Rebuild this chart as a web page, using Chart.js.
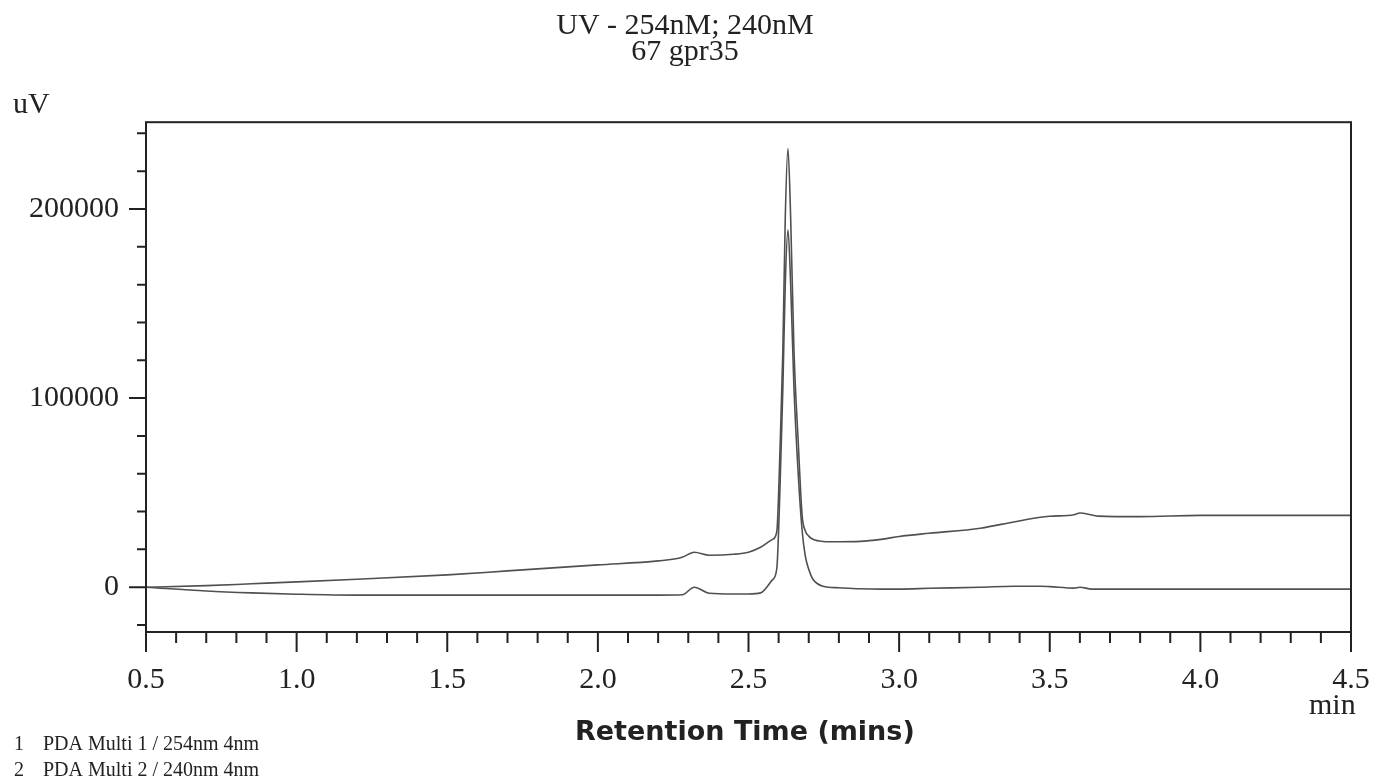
<!DOCTYPE html>
<html>
<head>
<meta charset="utf-8">
<title>UV - 254nM; 240nM</title>
<script src="https://cdn.jsdelivr.net/npm/chart.js@4.4.1/dist/chart.umd.min.js"></script>
<style>
  html, body { margin: 0; padding: 0; background: #fff; }
  #wrap { width: 1373px; height: 779px; position: relative; }
</style>
</head>
<body>
<div id="wrap"><canvas id="uvChart"></canvas></div>
<script>
// retention time (min) shared by both traces
const retentionTimes = [
    0.5, 0.7, 0.85, 1.0, 1.2, 1.5, 1.7, 2.0, 2.2, 2.28,
    2.32, 2.37, 2.45, 2.5, 2.54, 2.58, 2.594, 2.605, 2.614, 2.622,
    2.631, 2.64, 2.651, 2.665, 2.678, 2.688, 2.7, 2.714, 2.747, 2.8,
    2.87, 2.94, 3.0, 3.1, 3.27, 3.38, 3.47, 3.5, 3.58, 3.6,
    3.64, 3.66, 3.8, 4.0, 4.2, 4.5
];
// uV, upper trace
const pda254 = [
    0, 800, 1800, 2800, 4200, 6500, 8600, 11800, 13900, 15800,
    18500, 16900, 17400, 18500, 21100, 25300, 29500, 75000, 125000, 195000,
    232000, 195000, 125000, 77000, 38000, 30000, 27000, 25300, 24200, 24000,
    24200, 25300, 26800, 28500, 31200, 34500, 37000, 37500, 38300, 39200,
    38200, 37600, 37300, 38000, 38000, 38000
];
// uV, lower trace
const pda240 = [
    0, -2000, -3000, -3700, -4200, -4200, -4200, -4200, -4200, -4000,
    0, -3200, -3600, -3600, -3000, 4000, 10000, 55000, 105000, 160000,
    189000, 160000, 105000, 60000, 30000, 17000, 9500, 4200, 500, -300,
    -800, -1000, -1000, -600, 0, 500, 500, 300, -500, 0,
    -1000, -1000, -1000, -1000, -1000, -1000
];
const xTickLabels = [0.5, 1.0, 1.5, 2.0, 2.5, 3.0, 3.5, 4.0, 4.5];
const yTickLabels = [0, 100000, 200000];
const legendNumbers = ['1', '2'];
const legendTexts = ['PDA Multi 1 / 254nm 4nm', 'PDA Multi 2 / 240nm 4nm'];

const SERIF = '"Liberation Serif", "Times New Roman", serif';
const INK = '#222';
const TRACE = '#505050';

const toPoints = values => retentionTimes.map((t, i) => ({ x: t, y: values[i] }));

// box, minor/major ticks and the loose labels round the plot
const chromFrame = {
    id: 'chromFrame',
    afterDraw(chart) {
        const ctx = chart.ctx;
        const area = chart.chartArea;
        const xs = chart.scales.x;
        const ys = chart.scales.y;
        ctx.save();
        ctx.strokeStyle = INK;
        ctx.lineWidth = 2;
        ctx.strokeRect(area.left, area.top, area.right - area.left, area.bottom - area.top);

        ctx.beginPath();
        for (let i = 5; i <= 45; i++) {
            const px = xs.getPixelForValue(i / 10);
            const len = i % 5 === 0 ? 20 : 11;
            ctx.moveTo(px, area.bottom);
            ctx.lineTo(px, area.bottom + len);
        }
        for (let v = -20000; v <= 240000; v += 20000) {
            const py = ys.getPixelForValue(v);
            const len = v % 100000 === 0 ? 17 : 9;
            ctx.moveTo(area.left, py);
            ctx.lineTo(area.left - len, py);
        }
        ctx.stroke();

        ctx.fillStyle = INK;
        ctx.textBaseline = 'alphabetic';
        ctx.textAlign = 'left';
        ctx.font = '30px ' + SERIF;
        ctx.fillText('uV', 13, 113);
        ctx.fillText('min', 1309, 714);

        ctx.font = 'bold 27px "DejaVu Sans", Verdana, sans-serif';
        ctx.fillText('Retention Time (mins)', 575, 740);

        ctx.font = '20px ' + SERIF;
        legendTexts.forEach((txt, i) => {
            const y = 750 + i * 26;
            ctx.fillText(legendNumbers[i], 14, y);
            ctx.fillText(txt, 43, y);
        });
        ctx.restore();
    }
};

const ctx = document.getElementById('uvChart').getContext('2d');
new Chart(ctx, {
    type: 'line',
    data: {
        datasets: [
            {
                label: 'PDA Multi 1 / 254nm 4nm',
                data: toPoints(pda254),
                borderColor: TRACE,
                borderWidth: 1.6,
                pointRadius: 0,
                cubicInterpolationMode: 'monotone',
                fill: false
            },
            {
                label: 'PDA Multi 2 / 240nm 4nm',
                data: toPoints(pda240),
                borderColor: TRACE,
                borderWidth: 1.6,
                pointRadius: 0,
                cubicInterpolationMode: 'monotone',
                fill: false
            }
        ]
    },
    options: {
        responsive: true,
        maintainAspectRatio: false,
        animation: false,
        layout: { padding: { left: 0, right: 3, top: 0, bottom: 0 } },
        plugins: {
            legend: { display: false },
            tooltip: { enabled: false },
            title: {
                display: true,
                text: ['UV - 254nM; 240nM', '67 gpr35'],
                color: INK,
                font: { family: SERIF, size: 30, weight: 'normal', lineHeight: 0.87 },
                padding: { top: 13, bottom: 57 }
            }
        },
        scales: {
            x: {
                type: 'linear',
                min: 0.5,
                max: 4.5,
                afterBuildTicks: scale => { scale.ticks = xTickLabels.map(v => ({ value: v })); },
                afterFit: scale => {
                    scale.height = 147;
                    scale.paddingLeft = 0;
                    scale.paddingRight = 22;
                },
                grid: { display: false },
                border: { display: false },
                ticks: {
                    color: INK,
                    font: { family: SERIF, size: 30 },
                    padding: 22,
                    maxRotation: 0,
                    autoSkip: false,
                    callback: v => Number(v).toFixed(1)
                }
            },
            y: {
                type: 'linear',
                min: -23700,
                max: 245900,
                afterBuildTicks: scale => { scale.ticks = yTickLabels.map(v => ({ value: v })); },
                afterFit: scale => { scale.width = 146; },
                grid: { display: false },
                border: { display: false },
                ticks: {
                    color: INK,
                    font: { family: SERIF, size: 30 },
                    padding: 19,
                    autoSkip: false,
                    callback: v => String(v)
                }
            }
        }
    },
    plugins: [chromFrame]
});
</script>
</body>
</html>
